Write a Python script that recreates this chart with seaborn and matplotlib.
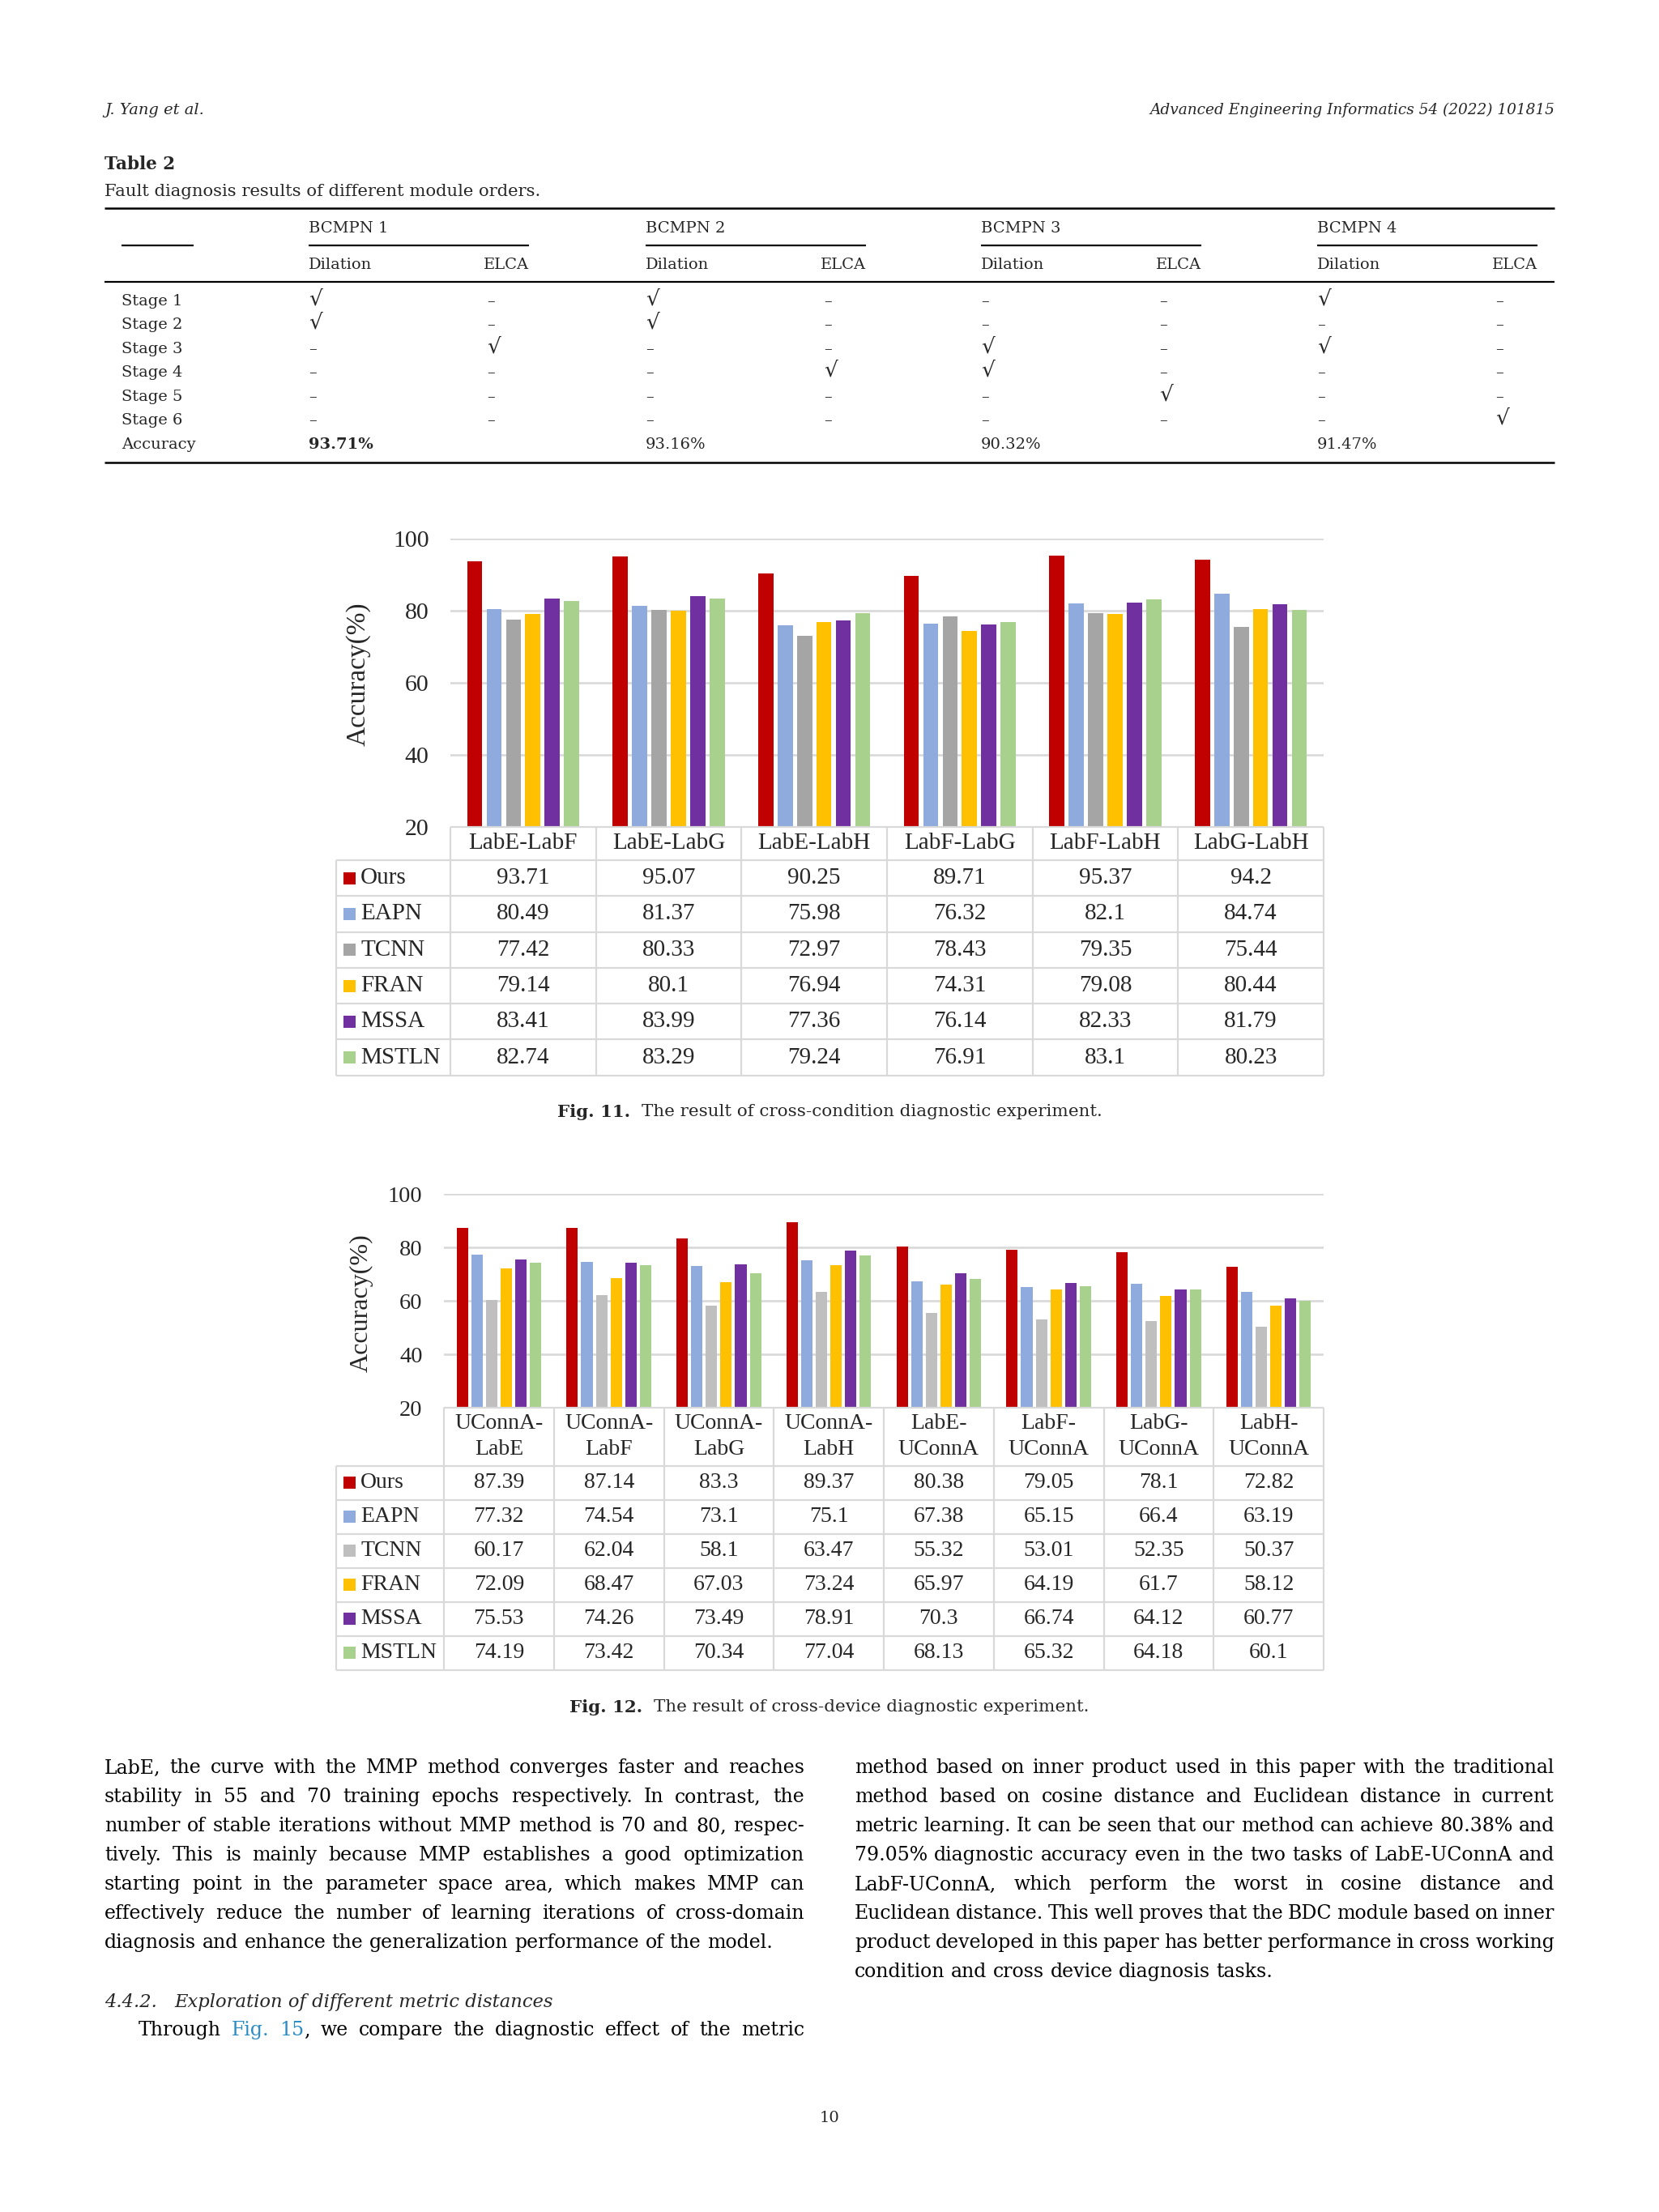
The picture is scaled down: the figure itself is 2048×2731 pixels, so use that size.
import re

import matplotlib
matplotlib.use("Agg")
import matplotlib.pyplot as plt
import numpy as np
import pandas as pd
import seaborn as sns
from matplotlib.lines import Line2D
from matplotlib.patches import Rectangle
from matplotlib.transforms import Affine2D

# ---- data -------------------------------------------------------------
methods = ["Ours", "EAPN", "TCNN", "FRAN", "MSSA", "MSTLN"]
colors_11 = ["#C00000", "#8FAADC", "#A5A5A5", "#FFC000", "#7030A0", "#A9D18E"]
colors_12 = ["#C00000", "#8FAADC", "#BFBFBF", "#FFC000", "#7030A0", "#A9D18E"]

tasks_11 = ["LabE-LabF", "LabE-LabG", "LabE-LabH", "LabF-LabG", "LabF-LabH", "LabG-LabH"]
ours_11 = [93.71, 95.07, 90.25, 89.71, 95.37, 94.2]
eapn_11 = [80.49, 81.37, 75.98, 76.32, 82.1, 84.74]
tcnn_11 = [77.42, 80.33, 72.97, 78.43, 79.35, 75.44]
fran_11 = [79.14, 80.1, 76.94, 74.31, 79.08, 80.44]
mssa_11 = [83.41, 83.99, 77.36, 76.14, 82.33, 81.79]
mstln_11 = [82.74, 83.29, 79.24, 76.91, 83.1, 80.23]

tasks_12 = ["UConnA-LabE", "UConnA-LabF", "UConnA-LabG", "UConnA-LabH",
            "LabE-UConnA", "LabF-UConnA", "LabG-UConnA", "LabH-UConnA"]
ours_12 = [87.39, 87.14, 83.3, 89.37, 80.38, 79.05, 78.1, 72.82]
eapn_12 = [77.32, 74.54, 73.1, 75.1, 67.38, 65.15, 66.4, 63.19]
tcnn_12 = [60.17, 62.04, 58.1, 63.47, 55.32, 53.01, 52.35, 50.37]
fran_12 = [72.09, 68.47, 67.03, 73.24, 65.97, 64.19, 61.7, 58.12]
mssa_12 = [75.53, 74.26, 73.49, 78.91, 70.3, 66.74, 64.12, 60.77]
mstln_12 = [74.19, 73.42, 70.34, 77.04, 68.13, 65.32, 64.18, 60.1]

y_ticks = [20, 40, 60, 80, 100]

# Table 2 (module orders)
bcmpn_names = ["BCMPN 1", "BCMPN 2", "BCMPN 3", "BCMPN 4"]
stage_names = ["Stage 1", "Stage 2", "Stage 3", "Stage 4", "Stage 5", "Stage 6"]
# per stage: (Dilation, ELCA) for BCMPN 1..4
stage_marks = [
    ["√", "–", "√", "–", "–", "–", "√", "–"],
    ["√", "–", "√", "–", "–", "–", "–", "–"],
    ["–", "√", "–", "–", "√", "–", "√", "–"],
    ["–", "–", "–", "√", "√", "–", "–", "–"],
    ["–", "–", "–", "–", "–", "√", "–", "–"],
    ["–", "–", "–", "–", "–", "–", "–", "√"],
]
table_acc = ["93.71%", "93.16%", "90.32%", "91.47%"]

left_lines = [
    "LabE, the curve with the MMP method converges faster and reaches",
    "stability in 55 and 70 training epochs respectively. In contrast, the",
    "number of stable iterations without MMP method is 70 and 80, respec-",
    "tively. This is mainly because MMP establishes a good optimization",
    "starting point in the parameter space area, which makes MMP can",
    "effectively reduce the number of learning iterations of cross-domain",
    "diagnosis and enhance the generalization performance of the model.",
]
right_lines = [
    "method based on inner product used in this paper with the traditional",
    "method based on cosine distance and Euclidean distance in current",
    "metric learning. It can be seen that our method can achieve 80.38% and",
    "79.05% diagnostic accuracy even in the two tasks of LabE-UConnA and",
    "LabF-UConnA, which perform the worst in cosine distance and",
    "Euclidean distance. This well proves that the BDC module based on inner",
    "product developed in this paper has better performance in cross working",
    "condition and cross device diagnosis tasks.",
]
through_line = "Through {Fig.} {15}, we compare the diagnostic effect of the metric"

# ---- page setup ---------------------------------------------------------
W, H, DPI = 2048, 2731, 100
sns.set_style("white")
plt.rcParams["font.family"] = ["Liberation Serif", "DejaVu Serif"]
PAGE_FONT = "DejaVu Serif"
LINK = "#2B8CC4"
X_L, X_R = 129, 1919

fig = plt.figure(figsize=(W / DPI, H / DPI), dpi=DPI)
fig.patch.set_facecolor("white")
PX = Affine2D().scale(1.0 / W, -1.0 / H).translate(0, 1) + fig.transFigure
renderer = fig.canvas.get_renderer()


def px_line(x0, y0, x1, y1, lw_px, color="black"):
    fig.add_artist(Line2D([x0, x1], [y0, y1], transform=PX, lw=lw_px * 72 / DPI,
                          color=color, solid_capstyle="butt"))


def ptext(x, y, s, size, ha="left", va="center", family=PAGE_FONT, **kw):
    return fig.text(x, y, s, transform=PX, fontsize=size, ha=ha, va=va,
                    family=family, **kw)


def width_of(s, size, **kw):
    t = ptext(0, 0, s, size, **kw)
    w = t.get_window_extent(renderer).width
    t.remove()
    return w


def text_line(x0, x1, y, line, size, justify=True, indent=0, **kw):
    words = []
    for w in line.split(" "):
        segs = [p for p in re.split(r"(\{[^}]*\})", w) if p]
        words.append([(p[1:-1], LINK) if p.startswith("{") else (p, "black") for p in segs])
    placed, widths = [], []
    for w in words:
        segs, tot = [], 0.0
        for s, c in w:
            t = ptext(0, y, s, size, color=c, **kw)
            bw = t.get_window_extent(renderer).width
            segs.append((t, bw))
            tot += bw
        placed.append(segs)
        widths.append(tot)
    space = width_of("x x", size, **kw) - width_of("xx", size, **kw)
    if justify and len(words) > 1:
        gap = (x1 - x0 - indent - sum(widths)) / (len(words) - 1)
    else:
        gap = space
    x = x0 + indent
    for segs in placed:
        for t, bw in segs:
            t.set_x(x)
            x += bw
        x += gap


# ---- running header -----------------------------------------------------
ptext(X_L, 136, "J. Yang et al.", 14, style="italic")
ptext(X_R, 136, "Advanced Engineering Informatics 54 (2022) 101815", 13.3,
      ha="right", style="italic")

# ---- Table 2 ------------------------------------------------------------
ptext(X_L, 203, "Table 2", 15.5, weight="bold")
ptext(X_L, 236, "Fault diagnosis results of different module orders.", 15.2)
px_line(X_L, 257, X_R, 257, 2.5)
px_line(X_L, 348, X_R, 348, 2.2)
px_line(X_L, 571, X_R, 571, 2.5)
px_line(150, 303, 239, 303, 2.2)
group_x = [381, 797, 1211, 1626]
for k, gx in enumerate(group_x):
    gx_end = gx + 272
    ptext(gx, 282, bcmpn_names[k], 14)
    px_line(gx, 303, gx_end, 303, 2.2)
    ptext(gx, 327, "Dilation", 14)
    ptext(gx_end, 327, "ELCA", 14, ha="right")
    for r, marks in enumerate(stage_marks):
        ry = 372 + 29.4 * r
        for j, cx in enumerate([gx, gx_end - 52]):
            m = marks[2 * k + j]
            if m == "√":
                ptext(cx, ry - 3, m, 19)
            else:
                ptext(cx, ry, m, 14)
    ptext(gx, 549, table_acc[k], 14, weight="bold" if k == 0 else "normal")
for r, name in enumerate(stage_names):
    ptext(150, 372 + 29.4 * r, name, 14)
ptext(150, 549, "Accuracy", 14)

# ---- charts -------------------------------------------------------------
GRID = "#D9D9D9"


def draw_chart(ax, tasks, series, colors, fs, label_fs, label_x, label_y,
               header_h, row_h, two_line):
    rows = [(t, m, v) for m, vals in zip(methods, series) for t, v in zip(tasks, vals)]
    df = pd.DataFrame(rows, columns=["task", "method", "acc"])
    sns.barplot(data=df, x="task", y="acc", hue="method", order=tasks,
                hue_order=methods, palette=colors, saturation=1, width=0.8,
                gap=0.22, linewidth=0, errorbar=None, legend=False, ax=ax)
    ax.set_xlim(-0.5, len(tasks) - 0.5)
    ax.set_ylim(20, 100)
    ax.set_yticks(y_ticks)
    ax.set_xticks([])
    ax.set_xlabel("")
    ax.grid(axis="y", color=GRID, lw=1.9)
    ax.set_axisbelow(True)
    sns.despine(ax=ax, left=True, bottom=True)
    ax.tick_params(axis="y", length=0, pad=19, labelsize=fs + 0.5)
    ax.set_ylabel("Accuracy(%)", fontsize=label_fs)
    ax.yaxis.label.set_verticalalignment("center")
    x_left, _ = ax.transData.transform((-0.5, 20))
    x_right, _ = ax.transData.transform((len(tasks) - 0.5, 20))
    ax.yaxis.set_label_coords((label_x - x_left) / (x_right - x_left), label_y)

    # data table under the bars
    bounds = [ax.transData.transform((i - 0.5, 20))[0] for i in range(len(tasks) + 1)]
    top = H - ax.transData.transform((0, 20))[1]
    hb = top + header_h
    bottom = hb + row_h * len(methods)
    lw = 2.2
    px_line(bounds[0], top, bounds[-1], top, lw, GRID)
    for b in bounds:
        px_line(b, top, b, bottom, lw, GRID)
    px_line(415, hb, 415, bottom, lw, GRID)
    for k in range(len(methods) + 1):
        px_line(415, hb + k * row_h, bounds[-1], hb + k * row_h, lw, GRID)
    for i, t in enumerate(tasks):
        cx = (bounds[i] + bounds[i + 1]) / 2
        if two_line:
            a, b = t.split("-")
            ptext(cx, top + header_h / 2 - 16, a + "-", fs, ha="center", family="Liberation Serif")
            ptext(cx, top + header_h / 2 + 16, b, fs, ha="center", family="Liberation Serif")
        else:
            ptext(cx, top + header_h / 2, t, fs, ha="center", family="Liberation Serif")
    for k, (m, vals) in enumerate(zip(methods, series)):
        cy = hb + (k + 0.5) * row_h
        fig.add_artist(Rectangle((424, cy - 7.5), 15, 15, transform=PX,
                                 facecolor=colors[k], edgecolor="none"))
        ptext(445, cy, m, fs, family="Liberation Serif")
        for i, v in enumerate(vals):
            cx = (bounds[i] + bounds[i + 1]) / 2
            ptext(cx, cy, f"{v:g}", fs, ha="center", family="Liberation Serif")


ax11 = fig.add_axes([556 / W, 1 - 1021 / H, (1634 - 556) / W, (1021 - 665) / H])
draw_chart(ax11, tasks_11, [ours_11, eapn_11, tcnn_11, fran_11, mssa_11, mstln_11],
           colors_11, 21, 24, 442, 0.53, 41, 44.3, False)

ax12 = fig.add_axes([548 / W, 1 - 1738 / H, (1634 - 548) / W, (1738 - 1474) / H])
draw_chart(ax12, tasks_12, [ours_12, eapn_12, tcnn_12, fran_12, mssa_12, mstln_12],
           colors_12, 20, 23, 446, 0.49, 72, 42, True)


def caption(y, label, rest, size=15.4):
    wb = width_of(label, size, weight="bold")
    wr = width_of(rest, size)
    gap = 14
    x0 = 1024 - (wb + gap + wr) / 2
    ptext(x0, y, label, size, weight="bold")
    ptext(x0 + wb + gap, y, rest, size)


caption(1373, "Fig. 11.", "The result of cross-condition diagnostic experiment.")
caption(2108, "Fig. 12.", "The result of cross-device diagnostic experiment.")

# ---- body text ----------------------------------------------------------
BODY = 17
COL_W = 864
RIGHT_X = X_R - COL_W
for i, ln in enumerate(left_lines):
    text_line(X_L, X_L + COL_W, 2183 + 36 * i, ln, BODY, justify=i < len(left_lines) - 1)
for i, ln in enumerate(right_lines):
    text_line(RIGHT_X, X_R, 2183 + 36 * i, ln, BODY, justify=i < len(right_lines) - 1)
HEAD = 16.3
w_num = width_of("4.4.2.", HEAD, style="italic")
ptext(X_L, 2472, "4.4.2.", HEAD, style="italic")
ptext(max(215, X_L + w_num + 16), 2472, "Exploration of different metric distances",
      HEAD, style="italic")
text_line(X_L, X_L + COL_W, 2507, through_line, BODY, justify=True, indent=42)

ptext(1024, 2615, "10", 14, ha="center")

fig.savefig("out.png", dpi=DPI, facecolor="white")
